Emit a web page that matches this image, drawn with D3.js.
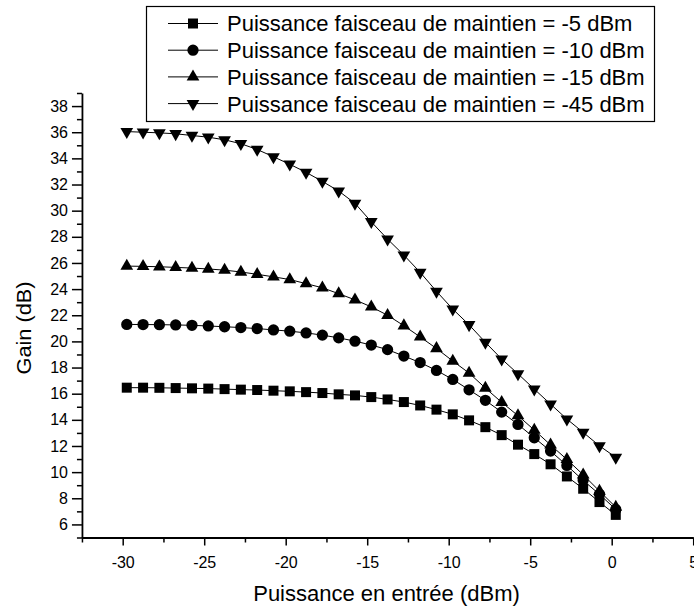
<!DOCTYPE html>
<html>
<head>
<meta charset="utf-8">
<script src="https://cdn.jsdelivr.net/npm/d3@7"></script>
<style>
  html, body { margin: 0; padding: 0; background: #fff; }
  svg { display: block; }
  text { font-family: "Liberation Sans", Arial, Helvetica, sans-serif; fill: #000; }
</style>
</head>
<body>
<svg id="chart" width="694" height="608"></svg>
<script>
// ---- data ----
const inputPower = [-29.75, -28.75, -27.75, -26.75, -25.75, -24.75, -23.75, -22.75, -21.75, -20.75,
                    -19.75, -18.75, -17.75, -16.75, -15.75, -14.75, -13.75, -12.75, -11.75, -10.75,
                    -9.75, -8.75, -7.75, -6.75, -5.75, -4.75, -3.75, -2.75, -1.75, -0.75, 0.25];
const gainM5  = [16.46, 16.46, 16.45, 16.43, 16.41, 16.39, 16.35, 16.31, 16.28, 16.23,
                 16.18, 16.12, 16.05, 15.95, 15.87, 15.74, 15.56, 15.36, 15.10, 14.78,
                 14.42, 13.96, 13.44, 12.83, 12.10, 11.38, 10.60, 9.67, 8.73, 7.71, 6.73];
const gainM10 = [21.30, 21.29, 21.28, 21.26, 21.23, 21.18, 21.12, 21.06, 20.98, 20.88,
                 20.78, 20.65, 20.48, 20.27, 20.02, 19.72, 19.37, 18.88, 18.38, 17.78,
                 17.09, 16.30, 15.49, 14.59, 13.65, 12.63, 11.61, 10.51, 9.37, 8.30, 7.15];
const gainM15 = [25.76, 25.74, 25.71, 25.66, 25.61, 25.54, 25.45, 25.31, 25.13, 24.94,
                 24.73, 24.42, 24.10, 23.65, 23.18, 22.64, 22.00, 21.20, 20.34, 19.46,
                 18.50, 17.58, 16.43, 15.34, 14.32, 13.22, 12.08, 10.97, 9.80, 8.55, 7.32];
const gainM45 = [36.05, 36.00, 35.95, 35.88, 35.75, 35.62, 35.42, 35.12, 34.68, 34.12,
                 33.55, 32.93, 32.24, 31.50, 30.56, 29.15, 27.82, 26.60, 25.28, 23.83,
                 22.47, 21.27, 19.93, 18.65, 17.52, 16.35, 15.20, 14.06, 13.04, 12.01, 11.13];
const seriesLabels = ["Puissance faisceau de maintien = -5 dBm",
                      "Puissance faisceau de maintien = -10 dBm",
                      "Puissance faisceau de maintien = -15 dBm",
                      "Puissance faisceau de maintien = -45 dBm"];
const seriesSymbols = ["square", "circle", "triangleUp", "triangleDown"];
const xMajorTicks = [-30, -25, -20, -15, -10, -5, 0, 5];
const xMinorTicks = [-32.5, -27.5, -22.5, -17.5, -12.5, -7.5, -2.5, 2.5];
const yMajorTicks = [6, 8, 10, 12, 14, 16, 18, 20, 22, 24, 26, 28, 30, 32, 34, 36, 38];
const yMinorTicks = [5, 7, 9, 11, 13, 15, 17, 19, 21, 23, 25, 27, 29, 31, 33, 35, 37, 39];
const xTitle = "Puissance en entrée (dBm)";
const yTitle = "Gain (dB)";

// ---- drawing ----
const svg = d3.select("#chart");
const x = d3.scaleLinear().domain([-32.5, 5]).range([81.95, 693.2]);
const y = d3.scaleLinear().domain([5, 39]).range([537.5, 93]);

const seriesValues = [gainM5, gainM10, gainM15, gainM45];

function symbolPath(kind) {
  if (kind === "square") return d3.symbol().type(d3.symbolSquare).size(100)();
  if (kind === "circle") return d3.symbol().type(d3.symbolCircle).size(100)();
  return d3.symbol().type(d3.symbolTriangle).size(70)();
}
function symbolTransform(kind, px, py) {
  if (kind === "triangleDown") return `translate(${px},${py}) rotate(180)`;
  return `translate(${px},${py})`;
}
const hyphenFmt = d => String(d);

// axes
const axisColor = "#000";
const gx = svg.append("g").attr("transform", `translate(0,${y(5)})`);
gx.call(d3.axisBottom(x).tickValues(xMinorTicks).tickSize(5).tickSizeOuter(0).tickFormat(""));
const gxM = svg.append("g").attr("transform", `translate(0,${y(5)})`);
gxM.call(d3.axisBottom(x).tickValues(xMajorTicks).tickSize(8).tickSizeOuter(0).tickPadding(11)
  .tickFormat(hyphenFmt));
gxM.select(".domain").remove();

const gy = svg.append("g").attr("transform", `translate(${x(-32.5)},0)`);
gy.call(d3.axisLeft(y).tickValues(yMinorTicks).tickSize(5).tickSizeOuter(0).tickFormat(""));
const gyM = svg.append("g").attr("transform", `translate(${x(-32.5)},0)`);
gyM.call(d3.axisLeft(y).tickValues(yMajorTicks).tickSize(10).tickSizeOuter(0).tickPadding(4)
  .tickFormat(hyphenFmt));
gyM.select(".domain").remove();

svg.selectAll(".domain").attr("stroke", axisColor).attr("stroke-width", 1.8);
svg.selectAll(".tick line").attr("stroke", axisColor).attr("stroke-width", 1.5);
svg.selectAll(".tick text").attr("font-size", 16).attr("fill", "#000")
  .attr("font-family", '"Liberation Sans", Arial, sans-serif');

// series
const line = d3.line().x((d, i) => x(inputPower[i])).y(d => y(d));
seriesValues.forEach((vals, s) => {
  const g = svg.append("g");
  g.append("path").datum(vals).attr("d", line)
    .attr("fill", "none").attr("stroke", "#000").attr("stroke-width", 1);
  g.selectAll("path.mk").data(vals).enter().append("path").attr("class", "mk")
    .attr("d", symbolPath(seriesSymbols[s]))
    .attr("transform", (d, i) => symbolTransform(seriesSymbols[s], x(inputPower[i]), y(d)))
    .attr("fill", "#000");
});

// titles
svg.append("text").attr("x", 386.5).attr("y", 601).attr("text-anchor", "middle")
  .attr("font-size", 22).text(xTitle);
svg.append("text").attr("transform", "translate(31,328) rotate(-90)").attr("text-anchor", "middle")
  .attr("font-size", 21).attr("textLength", 93).attr("lengthAdjust", "spacingAndGlyphs").text(yTitle);

// legend
const lg = svg.append("g");
lg.append("rect").attr("x", 146.5).attr("y", 6.5).attr("width", 508).attr("height", 115)
  .attr("fill", "#fff").attr("stroke", "#000").attr("stroke-width", 1.2);
const rowY = [23.5, 50.2, 76.9, 103.6];
seriesLabels.forEach((lab, s) => {
  const ry = rowY[s];
  lg.append("line").attr("x1", 168).attr("x2", 218).attr("y1", ry).attr("y2", ry)
    .attr("stroke", "#000").attr("stroke-width", 1);
  lg.append("path").attr("d", symbolPath(seriesSymbols[s]))
    .attr("transform", symbolTransform(seriesSymbols[s], 193, ry)).attr("fill", "#000");
  lg.append("text").attr("x", 227).attr("y", ry).attr("dy", "0.36em")
    .attr("font-size", 22).text(lab);
});
</script>
</body>
</html>
